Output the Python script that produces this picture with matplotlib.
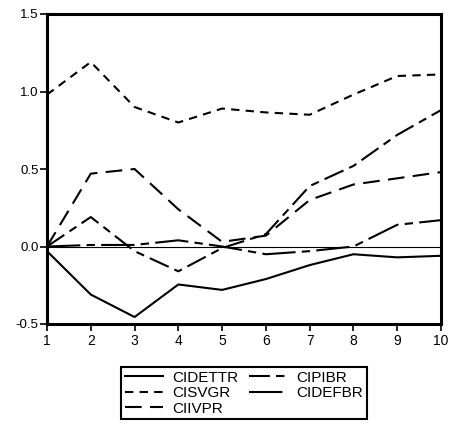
import numpy as np
import matplotlib.pyplot as plt

plt.rcParams['font.family'] = ['Liberation Sans', 'DejaVu Sans']

# horizonte (periodos)
periodos = np.arange(1, 11)

# respostas
cidettr = [-0.03, -0.31, -0.455, -0.245, -0.28, -0.21, -0.12, -0.05, -0.07, -0.06]
cisvgr = [0.98, 1.19, 0.90, 0.80, 0.89, 0.865, 0.85, 0.98, 1.10, 1.11]
ciivpr = [0.0, 0.47, 0.50, 0.24, 0.03, 0.07, 0.30, 0.40, 0.44, 0.48]
cipibr = [0.0, 0.19, -0.03, -0.16, -0.01, 0.08, 0.39, 0.52, 0.72, 0.88]
cidefbr = [0.0, 0.01, 0.01, 0.04, 0.0, -0.05, -0.03, 0.0, 0.14, 0.17]

nomes = ["CIDETTR", "CISVGR", "CIIVPR", "CIPIBR", "CIDEFBR"]
series = [cidettr, cisvgr, ciivpr, cipibr, cidefbr]
estilos = ["-", (0, (4, 3)), (0, (8, 4)), (0, (10, 3, 4, 3)), (0, (16, 3, 4, 3))]

yticks = [-0.5, 0.0, 0.5, 1.0, 1.5]

fig = plt.figure(figsize=(4.49, 4.24), dpi=100)
ax = fig.add_axes([47 / 449, 1 - 324 / 424, 394 / 449, 310 / 424])

ax.axhline(0, color="black", lw=0.8)
for nome, valores, ls in zip(nomes, series, estilos):
    ax.plot(periodos, valores, color="black", lw=1.5, linestyle=ls, label=nome)

ax.set_xlim(1, 10)
ax.set_ylim(-0.5, 1.5)
ax.set_xticks(periodos)
ax.set_yticks(yticks)
ax.set_yticklabels([f"{v:.1f}" for v in yticks])
for s in ax.spines.values():
    s.set_linewidth(2.2)
ax.tick_params(direction="out", length=5, width=1.2, pad=2)
ax.tick_params(axis="x", labelsize=10)
ax.tick_params(axis="y", labelsize=9.5, pad=1)

leg = fig.legend(loc="upper center", bbox_to_anchor=(244 / 449, 1 - 367 / 424),
                 ncol=2, fontsize=11, handlelength=2.5, labelspacing=0.09,
                 columnspacing=0.65, borderpad=0.25, handletextpad=0.6,
                 borderaxespad=0, fancybox=False, edgecolor="black", framealpha=1)
leg.get_frame().set_linewidth(1.5)

fig.savefig("out.png", dpi=100)
